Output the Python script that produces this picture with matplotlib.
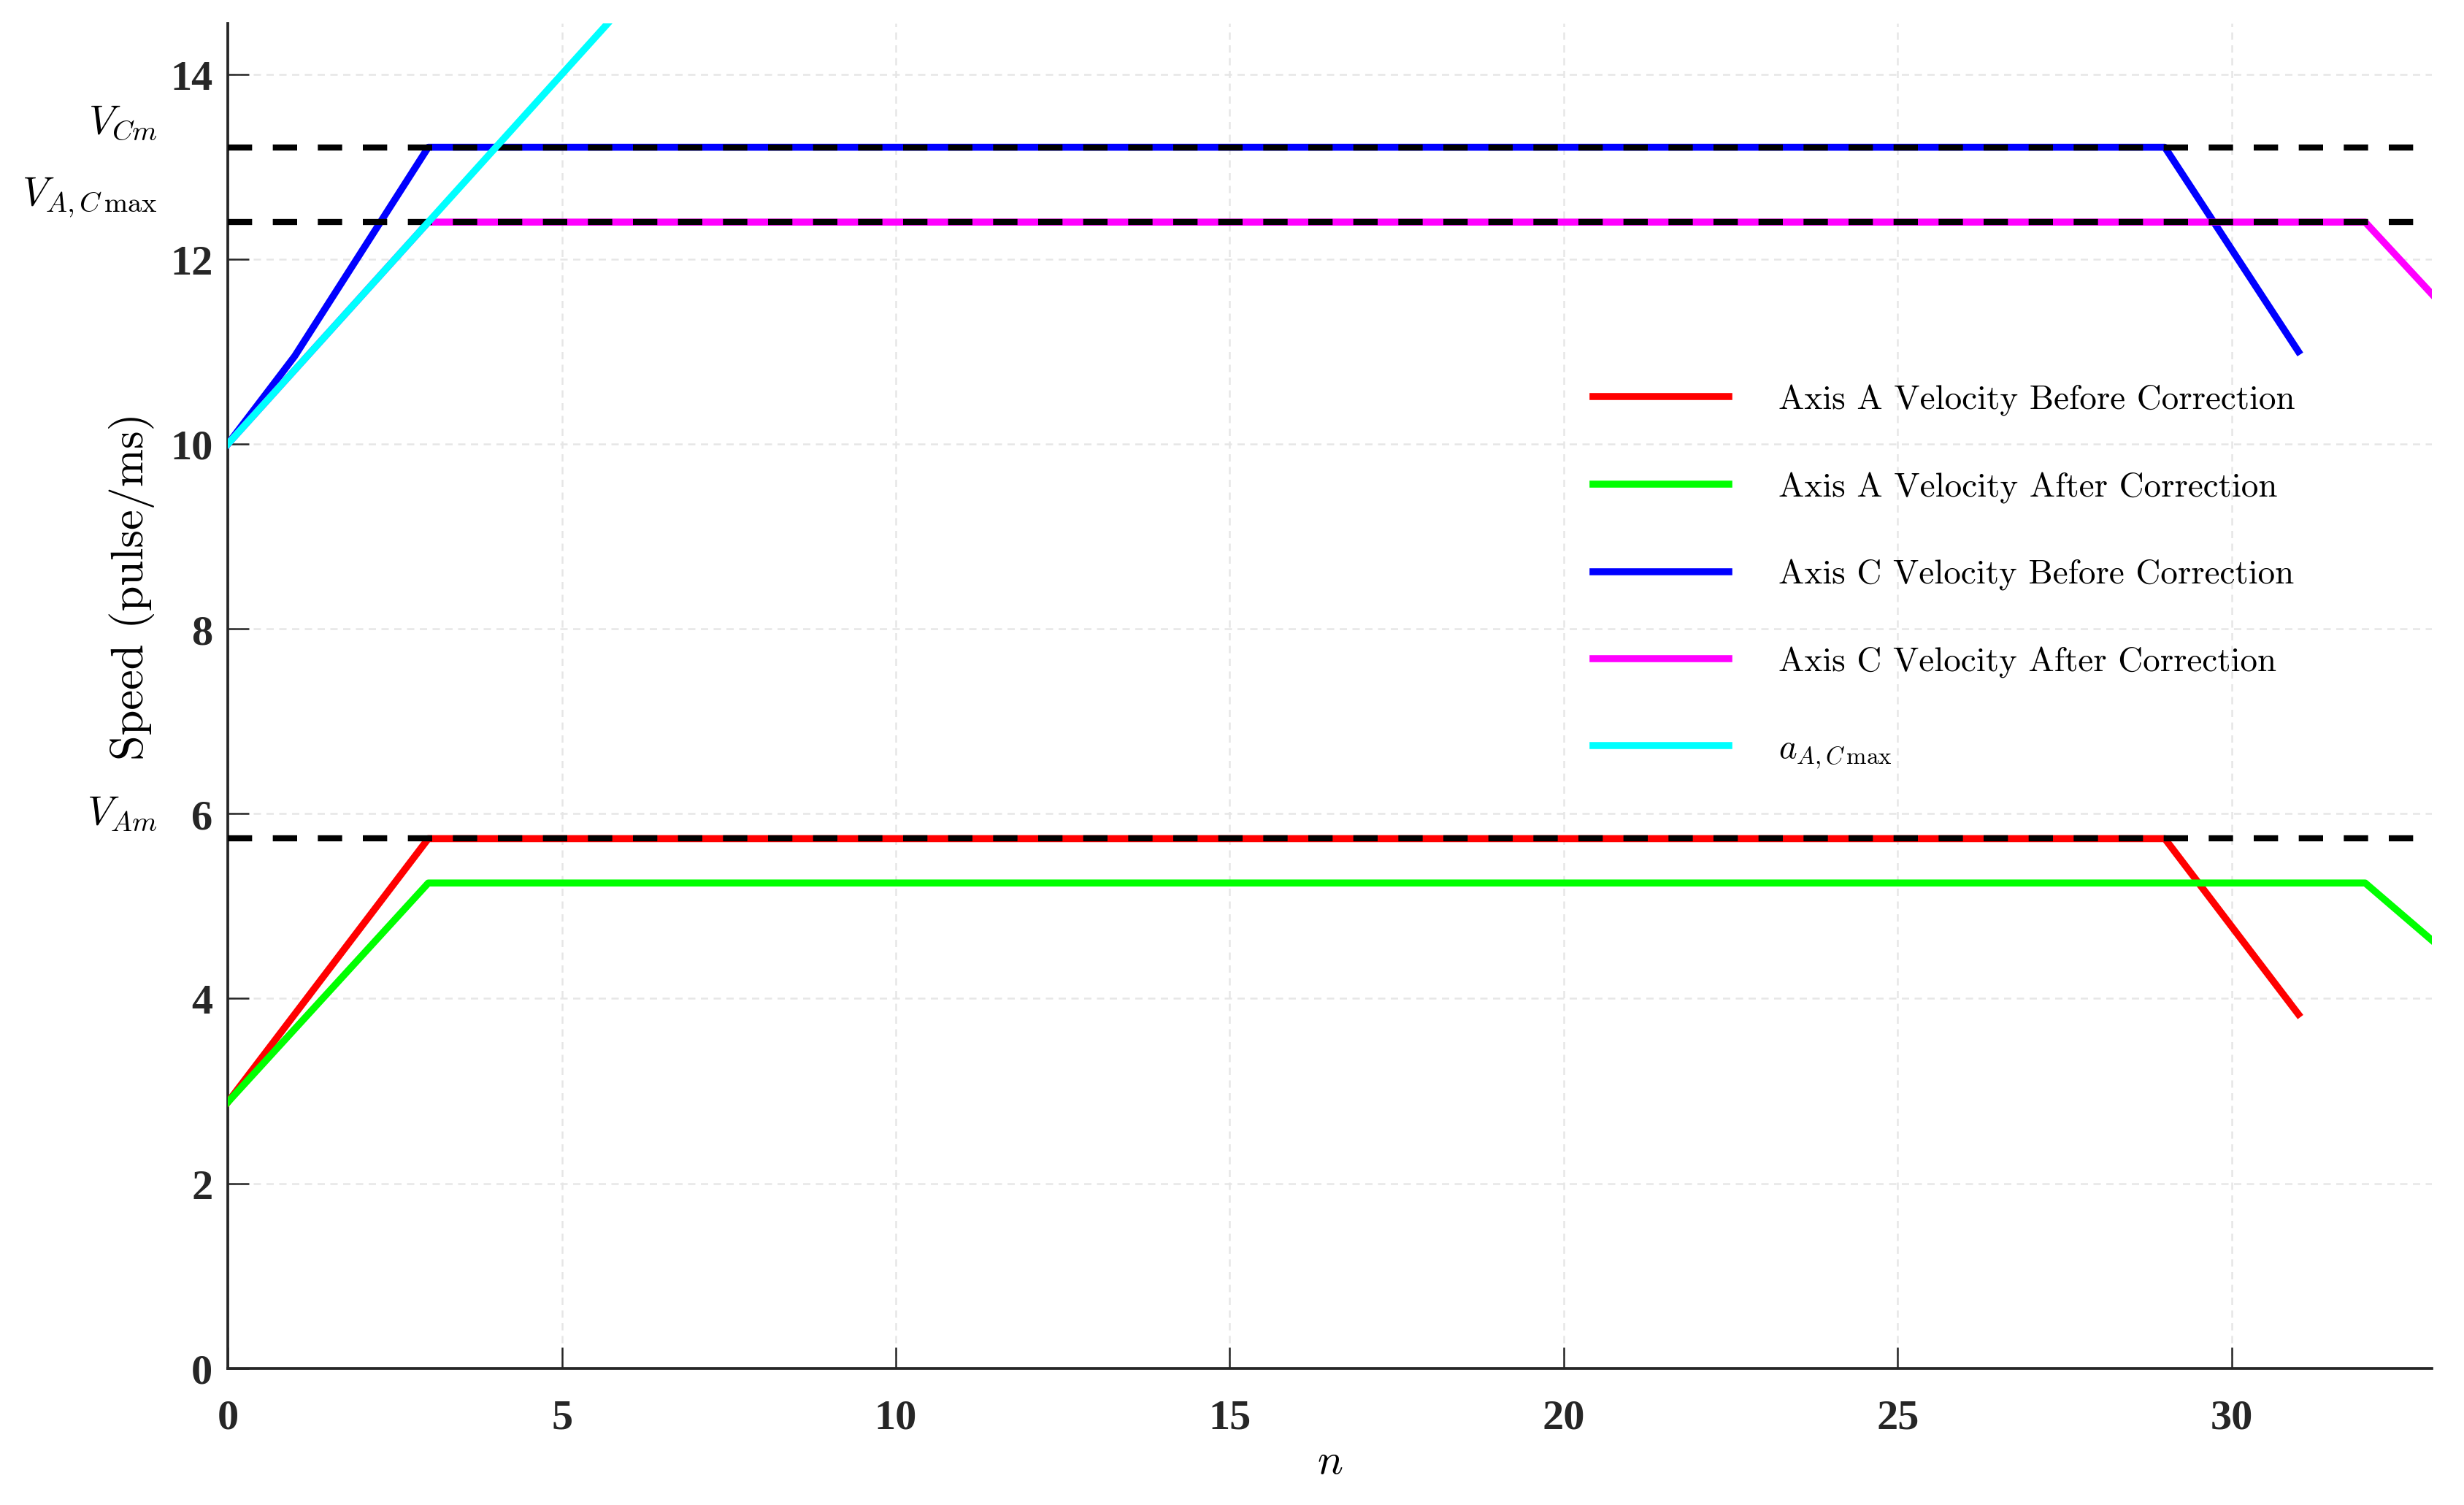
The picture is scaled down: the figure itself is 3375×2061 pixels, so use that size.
import matplotlib
matplotlib.use("Agg")
import matplotlib.pyplot as plt

# ---- data ----
red_n = [0, 3, 29, 31]
red_v = [2.88, 5.73, 5.73, 3.83]
green_n = [0, 3, 32, 33]
green_v = [2.88, 5.25, 5.25, 4.63]
blue_n = [0, 1, 3, 29, 31]
blue_v = [10.0, 10.95, 13.21, 13.21, 11.0]
magenta_n = [0, 3, 32, 33]
magenta_v = [10.0, 12.40, 12.40, 11.62]
cyan_n = [0, 6]
cyan_v = [10.0, 14.8]

ref_values = [13.21, 12.40, 5.73]
ref_labels = [r"$V_{Cm}$", r"$V_{A,C\,\max}$", r"$V_{Am}$"]

labels = ["Axis A Velocity Before Correction",
          "Axis A Velocity After Correction",
          "Axis C Velocity Before Correction",
          "Axis C Velocity After Correction",
          r"$a_{A,C\,\max}$"]
x_ticks = [0, 5, 10, 15, 20, 25, 30]
y_ticks = [0, 2, 4, 6, 8, 10, 12, 14]

plt.rcParams['mathtext.fontset'] = 'cm'
plt.rcParams['axes.unicode_minus'] = False

fig = plt.figure(figsize=(11.25, 6.8733), dpi=300)
ax = fig.add_axes([0.0925, 0.0908, 0.8945, 0.8932])

lw = 2.3
ax.plot(red_n, red_v, color='#ff0000', lw=lw, zorder=3, label=labels[0])
ax.plot(green_n, green_v, color='#00ff00', lw=lw, zorder=3.1, label=labels[1])
ax.plot(blue_n, blue_v, color='#0000ff', lw=lw, zorder=3.2, label=labels[2])
ax.plot(magenta_n, magenta_v, color='#ff00ff', lw=lw, zorder=3.3, label=labels[3])
for v in ref_values:
    ax.plot([0, 33], [v, v], color='black', lw=2.0, dashes=(4.0, 3.4), zorder=3.5)
ax.plot(cyan_n, cyan_v, color='#00ffff', lw=lw, zorder=3.6, label=labels[4])

ax.set_xlim(0, 33)
ax.set_ylim(0, 14.55)
ax.set_xticks(x_ticks)
ax.set_yticks(y_ticks)
ax.set_xticklabels([str(t) for t in x_ticks])
ax.set_yticklabels([str(t) for t in y_ticks])
for lab in ax.get_xticklabels() + ax.get_yticklabels():
    lab.set_fontfamily('Liberation Serif')
    lab.set_fontweight('bold')
    lab.set_fontsize(14)
    lab.set_color('#262626')

ax.tick_params(direction='in', length=7, width=0.6, color='#262626')
ax.tick_params(axis='x', pad=10)
ax.tick_params(axis='y', pad=5)
for s in ['top', 'right']:
    ax.spines[s].set_visible(False)
for s in ['left', 'bottom']:
    ax.spines[s].set_color('#262626')
    ax.spines[s].set_linewidth(0.9)

ax.grid(True, color='#e6e6e6', lw=0.6, dashes=(4, 3))
ax.set_axisbelow(True)

ax.set_xlabel(r"$n$", fontsize=14, labelpad=1)
ax.set_ylabel("Speed (pulse/ms)", fontfamily='cmr10', fontsize=15)
ax.yaxis.label.set_va('center')
ax.yaxis.set_label_coords(-0.0435, 0.582)

for v, t in zip(ref_values, ref_labels):
    ax.text(-0.032, v + 0.28, t, transform=ax.get_yaxis_transform(),
            ha='right', va='center', fontsize=13.3)

leg = ax.legend(loc='upper left', bbox_to_anchor=(0.613, 0.742), frameon=False,
                prop={'family': 'cmr10', 'size': 11.3}, handlelength=3.95,
                handletextpad=1.45, labelspacing=1.63, borderaxespad=0)

fig.savefig("out.png", dpi=300)
